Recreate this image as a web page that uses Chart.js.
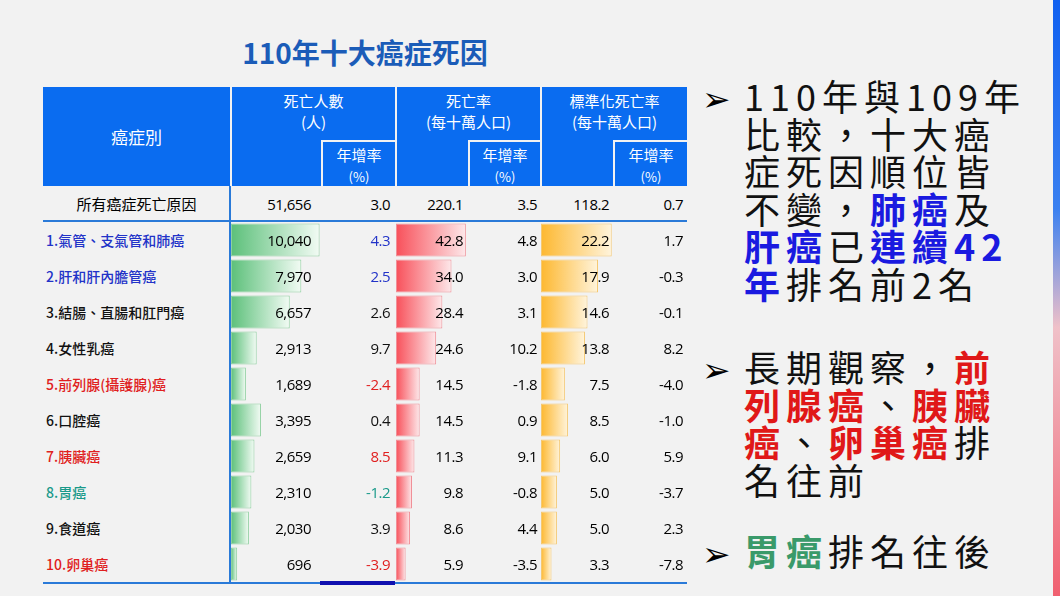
<!DOCTYPE html>
<html><head><meta charset="utf-8">
<script src="https://cdn.jsdelivr.net/npm/chart.js@4"></script>
<style>
body{margin:0;width:1060px;height:596px;background:#f2f2f2;position:relative;overflow:hidden;font-family:"Noto Sans CJK TC","Noto Sans",sans-serif;}
.a{position:absolute;box-sizing:border-box;}
.h{background:#0a6cf0;color:#fff;text-align:center;font-size:16px;line-height:21px;}
.t{font-size:15px;line-height:36px;white-space:nowrap;}
.num{font-family:"Open Sans","Noto Sans",sans-serif;font-size:15px;text-align:right;letter-spacing:-0.5px;}
.big{font-size:36px;line-height:37.5px;color:#111;letter-spacing:6px;white-space:nowrap;}
.arr{font-size:34px;line-height:37.5px;color:#000;}
.B{color:#1a1ae0;font-weight:bold}.R{color:#e01818;font-weight:bold}.G{color:#3a9a6a;font-weight:bold}
canvas{position:absolute;}
</style></head><body>
<script>
const categories=["1.氣管、支氣管和肺癌","2.肝和肝內膽管癌","3.結腸、直腸和肛門癌","4.女性乳癌","5.前列腺(攝護腺)癌","6.口腔癌","7.胰臟癌","8.胃癌","9.食道癌","10.卵巢癌"];
const catColors=["#2233c8","#2233c8","#111","#111","#e02020","#111","#e02020","#1a9a8a","#111","#e02020"];
const deaths=[10040,7970,6657,2913,1689,3395,2659,2310,2030,696];
const deathsGrowth=[4.3,2.5,2.6,9.7,-2.4,0.4,8.5,-1.2,3.9,-3.9];
const growthColors=["#2233c8","#2233c8","#111","#111","#e02020","#111","#e02020","#1a9a8a","#111","#e02020"];
const rate=[42.8,34.0,28.4,24.6,14.5,14.5,11.3,9.8,8.6,5.9];
const rateGrowth=[4.8,3.0,3.1,10.2,-1.8,0.9,9.1,-0.8,4.4,-3.5];
const stdRate=[22.2,17.9,14.6,13.8,7.5,8.5,6.0,5.0,5.0,3.3];
const stdGrowth=[1.7,-0.3,-0.1,8.2,-4.0,-1.0,5.9,-3.7,2.3,-7.8];
const totalRow=["所有癌症死亡原因","51,656","3.0","220.1","3.5","118.2","0.7"];

function el(cls,x,y,w,h,html,style){const d=document.createElement('div');d.className='a '+cls;Object.assign(d.style,{left:x+'px',top:y+'px',width:w+'px',height:h+'px'},style||{});d.innerHTML=html;document.body.appendChild(d);return d;}
el('',190,32,350,40,'110年十大癌症死因',{color:'#1b5cb8',fontSize:'28px',fontWeight:'bold',textAlign:'center',lineHeight:'40px'});
const HY=87,HB=186;
el('h',43,HY,187,HB-HY,'癌症別',{lineHeight:(HB-HY)+'px',fontSize:'17px'});
const cols=[[230,320,395,'死亡人數<br>(人)'],[395,467,540,'死亡率<br>(每十萬人口)'],[540,612,687,'標準化死亡率<br>(每十萬人口)']];
cols.forEach(c=>{
 el('h',c[0]+2,HY,c[2]-c[0]-2,HB-HY,'<div style="padding-top:3px">'+c[3]+'</div>',{fontSize:'15px'});
 el('h',c[1]+1,140,c[2]-c[1]-1,HB-140,'年增率<br><span style="font-size:13px">(%)</span>',{borderLeft:'2px solid #f2f2f2',borderTop:'2px solid #f2f2f2',paddingTop:'2px',fontSize:'15px'});
});
el('t',43,186,187,35,totalRow[0],{textAlign:'center'});
const ends=[[311,390],[463,537],[609,683]];
ends.forEach((e,i)=>{
 el('t num',e[0]-80,186,80,35,totalRow[1+i*2]);
 el('t num',e[1]-70,186,70,35,totalRow[2+i*2]);
});
el('',43,220,644,2,'',{background:'#2a7ad8'});
el('',229,186,2,398,'',{background:'#2a7ad8'});
el('',43,582,644,2,'',{background:'#2a7ad8'});
el('',320,581,75,4,'',{background:'#1010b0'});
el('',1053,0,7,596,'',{background:'linear-gradient(#1060f0 0%,#3a80f0 35%,#f0c0c8 55%,#f06070 100%)'});
const RT=222,RH=360,rowH=RH/10;
function mk(x,w,data,max,c1,c2,border){
 const wrap=document.createElement('div');wrap.className='a';Object.assign(wrap.style,{left:x+'px',top:RT+'px',width:w+'px',height:RH+'px'});
 const cv=document.createElement('canvas');wrap.appendChild(cv);document.body.appendChild(wrap);
 new Chart(cv,{type:'bar',data:{labels:categories,datasets:[{data:data,
  backgroundColor:(ctx)=>{const ch=ctx.chart;if(!ch.chartArea)return c1;const xs=ch.scales.x;const x0=xs.getPixelForValue(0),x1=xs.getPixelForValue(ctx.raw);const g=ch.ctx.createLinearGradient(x0,0,Math.max(x1,x0+1),0);g.addColorStop(0,c1);g.addColorStop(1,c2);return g;},
  borderColor:border,borderWidth:1,borderSkipped:false,categoryPercentage:0.92,barPercentage:1}]},
  options:{indexAxis:'y',responsive:true,maintainAspectRatio:false,animation:false,layout:{padding:0},
  plugins:{legend:{display:false},tooltip:{enabled:false}},
  scales:{x:{display:false,min:0,max:max},y:{display:false}}}});
}
mk(231,90,deaths,10200,'#5cc07a','#f2fbf4','#8fd0a0');
mk(396,71,rate,43.5,'#f8505a','#fde8ea','#f09098');
mk(541,72,stdRate,22.6,'#fdb830','#fff4dc','#f5c870');
const fmt=v=>v.toLocaleString('en-US');
for(let i=0;i<10;i++){
 const y=RT+i*rowH;
 el('t',46,y,184,rowH,categories[i],{color:catColors[i],fontSize:'14px',fontWeight:'500'});
 el('t num',ends[0][0]-80,y,80,rowH,fmt(deaths[i]),{zIndex:2});
 el('t num',ends[0][1]-70,y,70,rowH,deathsGrowth[i].toFixed(1),{color:growthColors[i]});
 el('t num',ends[1][0]-60,y,60,rowH,rate[i].toFixed(1),{zIndex:2});
 el('t num',ends[1][1]-60,y,60,rowH,rateGrowth[i].toFixed(1));
 el('t num',ends[2][0]-60,y,60,rowH,stdRate[i].toFixed(1),{zIndex:2});
 el('t num',ends[2][1]-60,y,60,rowH,stdGrowth[i].toFixed(1));
}
el('arr',702,78,40,40,'➢');
el('big',744,77,300,230,'110年與109年<br>比較，十大癌<br>症死因順位皆<br>不變，<span class="B">肺癌</span>及<br><span class="B">肝癌</span>已<span class="B">連續42</span><br><span class="B">年</span>排名前2名');
el('arr',702,349,40,40,'➢');
el('big',744,348,300,160,'長期觀察，<span class="R">前</span><br><span class="R">列腺癌</span>、<span class="R">胰臟</span><br><span class="R">癌</span>、<span class="R">卵巢癌</span>排<br>名往前');
el('arr',702,533,40,40,'➢');
el('big',744,532,300,40,'<span class="G">胃癌</span>排名往後');
</script>
</body></html>
